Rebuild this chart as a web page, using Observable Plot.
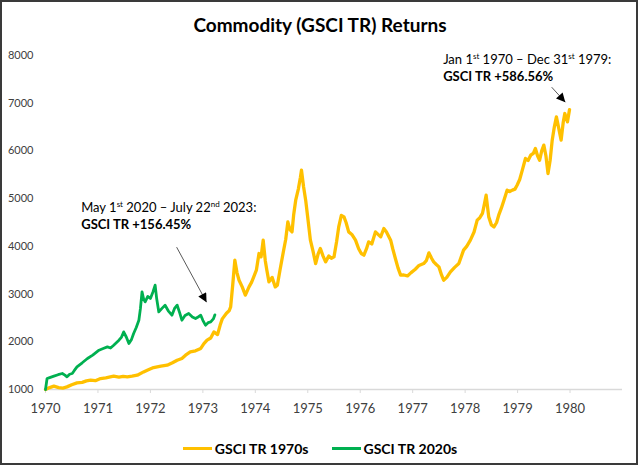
<!DOCTYPE html>
<html><head><meta charset="utf-8">
<script src="https://cdn.jsdelivr.net/npm/d3@7"></script>
<script src="https://cdn.jsdelivr.net/npm/@observablehq/plot@0.6"></script>
<style>
html,body{margin:0;padding:0;background:#fff;}
#chart{position:relative;width:640px;height:466px;overflow:hidden;font-family:Lato,"Open Sans",sans-serif;}
#title{height:40px;box-sizing:border-box;padding-top:15px;line-height:20px;text-align:center;font-weight:700;font-size:19px;color:#000;}
#legend{height:41px;box-sizing:border-box;padding-top:6px;display:flex;justify-content:center;align-items:center;gap:23px;font-weight:700;font-size:14px;color:#000;line-height:16px;}
.item{display:flex;align-items:center;gap:3px;}
.sw{width:29px;height:3px;display:inline-block;}
#border{position:absolute;left:0;top:0;width:638px;height:465px;box-sizing:border-box;border:2px solid #3a3a3a;pointer-events:none;}
svg{display:block;}
</style></head>
<body>
<div id="chart">
  <div id="title">Commodity (GSCI TR) Returns</div>
  <div id="plot"></div>
  <div id="legend"></div>
  <div id="border"></div>
</div>
<script>
// 1970s series (decimal year, index value)
const years1970s = [1970.00,1970.08,1970.16,1970.25,1970.33,1970.41,1970.50,1970.60,1970.70,1970.78,1970.86,1970.95,1971.05,1971.15,1971.30,1971.40,1971.48,1971.56,1971.65,1971.75,1971.87,1971.95,1972.06,1972.20,1972.32,1972.42,1972.51,1972.60,1972.67,1972.76,1972.86,1972.96,1973.02,1973.08,1973.15,1973.21,1973.28,1973.33,1973.37,1973.45,1973.50,1973.53,1973.57,1973.61,1973.65,1973.69,1973.75,1973.81,1973.88,1973.93,1973.97,1974.02,1974.07,1974.11,1974.15,1974.19,1974.22,1974.26,1974.32,1974.38,1974.42,1974.47,1974.54,1974.58,1974.62,1974.66,1974.70,1974.73,1974.77,1974.82,1974.86,1974.88,1974.92,1974.96,1975.00,1975.05,1975.10,1975.15,1975.20,1975.24,1975.29,1975.34,1975.40,1975.45,1975.50,1975.55,1975.59,1975.64,1975.69,1975.73,1975.78,1975.84,1975.91,1975.97,1976.02,1976.07,1976.12,1976.16,1976.22,1976.29,1976.34,1976.39,1976.45,1976.50,1976.58,1976.62,1976.67,1976.72,1976.77,1976.83,1976.90,1976.97,1977.05,1977.12,1977.21,1977.26,1977.31,1977.36,1977.40,1977.45,1977.50,1977.55,1977.59,1977.65,1977.72,1977.80,1977.88,1977.97,1978.03,1978.10,1978.17,1978.23,1978.28,1978.33,1978.37,1978.40,1978.45,1978.50,1978.55,1978.60,1978.64,1978.69,1978.74,1978.80,1978.85,1978.90,1978.95,1978.99,1979.04,1979.09,1979.15,1979.20,1979.25,1979.30,1979.34,1979.38,1979.42,1979.46,1979.50,1979.54,1979.58,1979.62,1979.66,1979.70,1979.74,1979.78,1979.83,1979.87,1979.90,1979.95,1979.99];
const values1970s = [1000,1040,1070,1040,1030,1055,1100,1139,1150,1180,1195,1185,1230,1245,1279,1260,1275,1265,1280,1300,1369,1410,1461,1490,1510,1560,1614,1650,1719,1788,1810,1860,1960,2033,2080,2207,2150,2350,2480,2600,2650,2731,3200,3710,3450,3291,3150,2977,3150,3250,3360,3500,3850,3780,4130,3700,3500,3255,3350,3150,3186,3500,3920,4150,4513,4350,4303,4650,4968,5200,5450,5597,5250,4968,4600,4130,3900,3640,3850,3955,3800,3675,3800,3750,3780,4100,4408,4650,4618,4500,4303,4250,4130,3950,3850,3815,3950,4094,4050,4303,4250,4199,4374,4300,4130,3950,3745,3550,3396,3400,3380,3450,3520,3600,3640,3700,3864,3750,3675,3620,3570,3400,3291,3350,3465,3560,3640,3920,4000,4130,4300,4549,4600,4689,4900,5072,4618,4450,4408,4500,4653,4800,4968,5178,5150,5178,5200,5282,5400,5597,5842,5800,5911,5950,6051,5900,5806,6000,6121,5900,5527,5800,6226,6500,6714,6500,6226,6600,6784,6609,6866];

// 2020s series plotted on the same elapsed-time axis
const years2020s = [1970.00,1970.03,1970.08,1970.16,1970.24,1970.32,1970.37,1970.41,1970.46,1970.51,1970.55,1970.60,1970.70,1970.80,1970.90,1971.02,1971.10,1971.18,1971.24,1971.30,1971.35,1971.40,1971.45,1971.49,1971.54,1971.59,1971.64,1971.68,1971.73,1971.78,1971.81,1971.84,1971.87,1971.90,1971.95,1972.00,1972.05,1972.09,1972.12,1972.16,1972.22,1972.28,1972.34,1972.41,1972.46,1972.51,1972.56,1972.60,1972.66,1972.73,1972.80,1972.86,1972.91,1972.96,1973.00,1973.05,1973.10,1973.15,1973.20,1973.23];
const values2020s = [1000,1230,1250,1279,1310,1335,1300,1265,1320,1335,1400,1474,1560,1650,1720,1824,1860,1893,1870,1928,1980,2033,2100,2207,2100,1964,2050,2173,2300,2452,2700,3046,2900,2836,2950,2907,3050,3186,2900,2626,2700,2767,2650,2557,2700,2767,2600,2452,2550,2593,2520,2488,2520,2557,2450,2348,2400,2417,2480,2565];

const seriesNames = ["GSCI TR 1970s", "GSCI TR 2020s"];
const seriesColors = ["#FFC000", "#00B050"];
const xTicks = [1970,1971,1972,1973,1974,1975,1976,1977,1978,1979,1980];
const yTicks = [1000,2000,3000,4000,5000,6000,7000,8000];

// annotations (data coordinates)
const noteLines = [
  {x: 1977.59, y: 7902, bold: false, parts: [["Jan 1", false], ["st", true], [" 1970 \u2013 Dec 31", false], ["st", true], [" 1979:", false]]},
  {x: 1977.59, y: 7546, bold: true, parts: [["GSCI TR +586.56%", false]]},
  {x: 1970.69, y: 4800, bold: false, parts: [["May 1", false], ["st", true], [" 2020 \u2013 July 22", false], ["nd", true], [" 2023:", false]]},
  {x: 1970.69, y: 4444, bold: true, parts: [["GSCI TR +156.45%", false]]}
];
const arrowX1 = [1979.65, 1972.50];
const arrowY1 = [7336, 3983];
const arrowX2 = [1979.91, 1973.07];
const arrowY2 = [7022, 2830];

const dataA = years1970s.map((t, i) => ({t, v: values1970s[i]}));
const dataB = years2020s.map((t, i) => ({t, v: values2020s[i]}));
const arrows = arrowX1.map((x1, i) => ({x1, y1: arrowY1[i], x2: arrowX2[i], y2: arrowY2[i]}));

const plot = Plot.plot({
  width: 640,
  height: 385,
  marginLeft: 45,
  marginRight: 18,
  marginTop: 15,
  marginBottom: 36,
  style: {fontFamily: "Lato, 'Open Sans', sans-serif", background: "transparent"},
  x: {domain: [1970, 1981]},
  y: {domain: [1000, 8000]},
  marks: [
    Plot.ruleY([1000], {stroke: "#d9d9d9", strokeWidth: 1.5}),
    Plot.axisX({ticks: xTicks, tickFormat: "d", tickSize: 4, tickPadding: 10.5, stroke: "#d9d9d9", fill: "#404040", fontSize: 13, label: null}),
    Plot.axisY({ticks: yTicks, tickFormat: "d", tickSize: 0, tickPadding: 12, fill: "#404040", fontSize: 11, label: null}),
    Plot.line(dataA, {x: "t", y: "v", stroke: seriesColors[0], strokeWidth: 3.3, strokeLinejoin: "round"}),
    Plot.line(dataB, {x: "t", y: "v", stroke: seriesColors[1], strokeWidth: 2.8, strokeLinejoin: "round"}),
    Plot.link(arrows, {x1: "x1", y1: "y1", x2: "x2", y2: "y2", stroke: "#595959", strokeWidth: 1})
  ]
});
document.getElementById("plot").appendChild(plot);

const svg = d3.select(plot);
const xs = plot.scale("x"), ys = plot.scale("y");
svg.append("defs").html('<marker id="ah" viewBox="0 0 10 10" refX="10" refY="5" markerWidth="10" markerHeight="9" markerUnits="userSpaceOnUse" orient="auto"><path d="M0,0L10,5L0,10z" fill="#000"/></marker>');
svg.selectAll('g[aria-label="link"] path').attr("marker-end", "url(#ah)");

const g = svg.append("g").attr("font-family", "Lato, 'Open Sans', sans-serif").attr("font-size", 13).attr("fill", "#000").attr("text-anchor", "start");
for (const n of noteLines) {
  const t = g.append("text")
    .attr("x", xs.apply(n.x))
    .attr("y", ys.apply(n.y) + 4.5)
    .attr("text-anchor", "start")
    .attr("font-weight", n.bold ? 700 : 400);
  let raised = false;
  for (const [s, sup] of n.parts) {
    const ts = t.append("tspan").text(s);
    if (sup) { ts.attr("font-size", 8).attr("dy", -5); raised = true; }
    else if (raised) { ts.attr("dy", 5); raised = false; }
  }
}

const legend = d3.select("#legend");
seriesNames.forEach((name, i) => {
  const it = legend.append("div").attr("class", "item");
  it.append("span").attr("class", "sw").style("background", seriesColors[i]);
  it.append("span").text(name);
});
</script>
</body></html>
